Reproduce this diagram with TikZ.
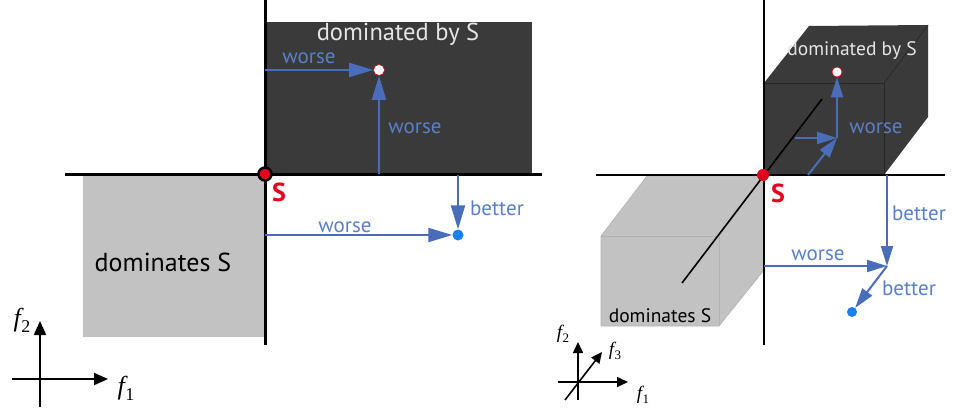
\documentclass[tikz,border=0pt]{standalone}
\usepackage{fontspec}
\setmainfont{PT Sans}
\newfontfamily\timesfont{Liberation Serif}
\usetikzlibrary{arrows.meta}
\definecolor{darkbox}{HTML}{3A3A3A}
\definecolor{lightbox}{HTML}{C2C2C2}
\definecolor{arrowblue}{HTML}{4A6DBA}
\definecolor{labelblue}{HTML}{5A7FC6}
\definecolor{dotblue}{HTML}{1C80EC}
\definecolor{pointred}{HTML}{E5001B}
\tikzset{
  axisline/.style={line width=3pt},
  thinaxis/.style={line width=2pt},
  blueline/.style={draw=arrowblue, line width=2pt, -{Triangle[length=24pt,width=14pt]}},
  smallblue/.style={draw=arrowblue, line width=2pt, -{Triangle[length=20pt,width=12pt]}},
  bluelabel/.style={text=labelblue, font=\fontsize{21}{23}\selectfont, inner sep=0pt},
  minilabel/.style={font=\timesfont\fontsize{26}{26}\selectfont\itshape, inner sep=0pt},
  minilabelsmall/.style={font=\timesfont\fontsize{19}{19}\selectfont\itshape, inner sep=0pt},
  spoint/.style={circle, fill=pointred, inner sep=0pt, minimum size=#1},
}
\begin{document}
\begin{tikzpicture}[x=1pt, y=-1pt]
\useasboundingbox (0,0) rectangle (953,409);

% Left: 2D objective space
\fill[darkbox] (265,22) rectangle (532,174);
\fill[lightbox] (83,174) rectangle (265,337);
\draw[axisline] (265,0) -- (265,345);
\draw[axisline] (65,174) -- (542,174);
\node[text=white!90!black, font=\fontsize{24.5}{26}\selectfont, inner sep=0pt] (domByL) at (398,34) {dominated by S};
\node[font=\fontsize{26}{28}\selectfont, inner sep=0pt] (domsL) at (163,262) {dominates S};

\node[circle, fill=white, draw=pointred, line width=0.6pt, inner sep=0pt, minimum size=11pt] (worseL) at (379,70) {};
\node[circle, fill=dotblue, inner sep=0pt, minimum size=11pt] (betterL) at (458,235) {};
\coordinate (aL) at (265,70);
\coordinate (bL) at (379,174);
\coordinate (cL) at (458,175);
\coordinate (dL) at (265,235);
\draw[blueline] (aL) -- (worseL);
\draw[blueline] (bL) -- (worseL);
\draw[blueline] (cL) -- (betterL);
\draw[blueline] (dL) -- (betterL);
\node[bluelabel] (w1L) at (309,58) {worse};
\node[bluelabel] (w2L) at (415,128) {worse};
\node[bluelabel] (b1L) at (497,208) {better};
\node[bluelabel] (w3L) at (345,227) {worse};

\node[spoint=13pt, draw=black, line width=2.5pt] (sL) at (265,174) {};
\node[text=pointred, font=\bfseries\fontsize{26}{28}\selectfont, inner sep=0pt] (sLabL) at (279,192) {S};

% Left: mini axes
\coordinate (f2L) at (40,321);
\coordinate (f1L) at (108,379);
\draw[line width=2pt, -{Triangle[length=14pt,width=12pt]}] (40,407) -- (f2L);
\draw[line width=2pt, -{Triangle[length=14pt,width=12pt]}] (12,379) -- (f1L);
\node[minilabel] (f2txtL) at (22,320) {f\kern0.5pt\raisebox{-6pt}{\upshape\fontsize{18}{18}\selectfont 2}};
\node[minilabel] (f1txtL) at (126,388) {f\kern0.5pt\raisebox{-6pt}{\upshape\fontsize{18}{18}\selectfont 1}};

% Right: 3D objective space, dark cube
\fill[darkbox] (764,83) -- (809,26) -- (928,25) -- (928,117) -- (884,175) -- (764,175) -- cycle;
\draw[black!85, line width=0.6pt] (764,83) -- (884,83) -- (884,175);
\draw[black!85, line width=0.6pt] (884,83) -- (928,25);
% light cube
\fill[lightbox] (601,236) -- (647,176) -- (764,176) -- (764,270) -- (719,326) -- (601,326) -- cycle;
\draw[black!30, line width=0.6pt] (601,236) -- (647,176) -- (764,176) -- (764,270) -- (719,326) -- (601,326) -- cycle;
\draw[black!30, line width=0.6pt] (601,236) -- (719,236) -- (719,326);
\draw[black!30, line width=0.6pt] (719,236) -- (764,176);

\draw[thinaxis] (764,0) -- (764,345);
\draw[thinaxis] (596,175) -- (945,175);
\coordinate (f3a) at (682,283);
\coordinate (f3b) at (822,99);
\draw[line width=1.6pt] (f3a) -- (f3b);

\node[text=white!90!black, font=\fontsize{19.5}{21}\selectfont, inner sep=0pt] (domByR) at (852,51) {dominated by S};
\node[font=\fontsize{19.5}{21}\selectfont, inner sep=0pt] (domsR) at (660,316) {dominates S};

\node[circle, fill=white, draw=pointred, line width=0.6pt, inner sep=0pt, minimum size=10pt] (worseR) at (837,72) {};
\coordinate (jR) at (837,138);
\coordinate (hR) at (795,138);
\coordinate (gR) at (808,175);
\draw[smallblue] (hR) -- (jR);
\draw[smallblue] (gR) -- (jR);
\draw[smallblue] (jR) -- (worseR);
\node[bluelabel] (w1R) at (876,128) {worse};

\node[circle, fill=dotblue, inner sep=0pt, minimum size=10pt] (betterR) at (852,312) {};
\coordinate (kR) at (887,266);
\coordinate (lR) at (887,175);
\coordinate (mR) at (764,266);
\draw[smallblue] (lR) -- (kR);
\draw[smallblue] (mR) -- (kR);
\draw[smallblue] (kR) -- (betterR);
\node[bluelabel] (b1R) at (919,213) {better};
\node[bluelabel] (w2R) at (818,255) {worse};
\node[bluelabel] (b2R) at (909,288) {better};

\node[spoint=12pt] (sR) at (763,175) {};
\node[text=pointred, font=\bfseries\fontsize{26}{28}\selectfont, inner sep=0pt] (sLabR) at (778,193) {S};

% Right: mini axes
\coordinate (f2R) at (578,342);
\coordinate (f1R) at (628,382);
\coordinate (f3R) at (602,352);
\draw[line width=1.6pt, -{Triangle[length=11pt,width=10pt]}] (578,400) -- (f2R);
\draw[line width=1.6pt, -{Triangle[length=11pt,width=10pt]}] (558,382) -- (f1R);
\draw[line width=1.6pt, -{Triangle[length=11pt,width=10pt]}] (565,400) -- (f3R);
\node[minilabelsmall] (f2txtR) at (563,334) {f\kern0.3pt\raisebox{-4pt}{\upshape\fontsize{13}{13}\selectfont 2}};
\node[minilabelsmall] (f3txtR) at (615,351) {f\kern0.3pt\raisebox{-4pt}{\upshape\fontsize{13}{13}\selectfont 3}};
\node[minilabelsmall] (f1txtR) at (643,395) {f\kern0.3pt\raisebox{-4pt}{\upshape\fontsize{13}{13}\selectfont 1}};
\end{tikzpicture}
\end{document}
